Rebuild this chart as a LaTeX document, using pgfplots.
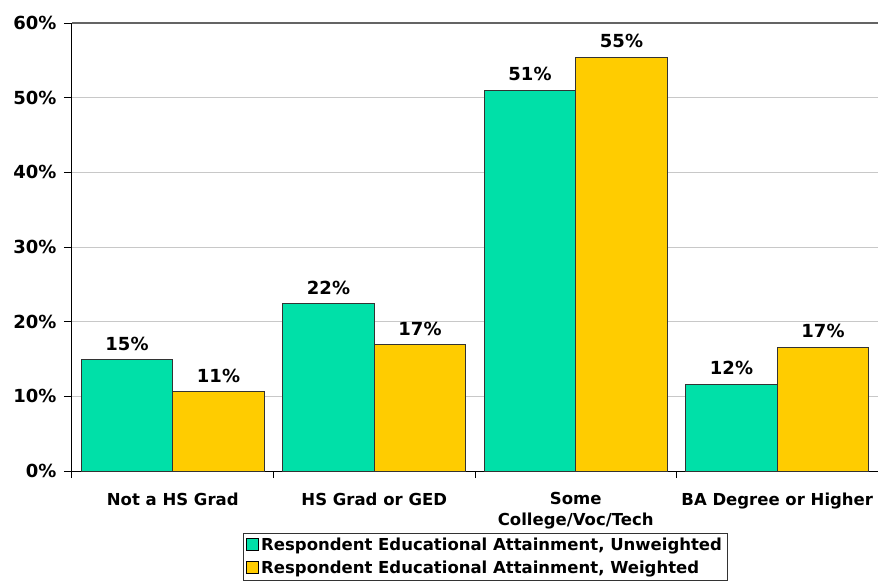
\documentclass[border=0pt]{standalone}
\usepackage{fontspec}
\setmainfont{DejaVu Sans}
\usepackage{pgfplots}
\pgfplotsset{compat=1.18}
\pgfkeys{/pgf/number format/assume math mode=true}
\definecolor{cgreen}{RGB}{0,224,168}
\definecolor{cyellow}{RGB}{255,204,0}
\definecolor{gridgray}{RGB}{200,200,200}
\definecolor{topgray}{RGB}{100,100,100}
\begin{document}
\begin{tikzpicture}[x=1pt,y=1pt]
\useasboundingbox (0,0) rectangle (878,582);
\begin{axis}[
  at={(72pt,111pt)}, anchor=south west,
  scale only axis, width=806pt, height=448pt,
  xmin=-0.5, xmax=3.5, ymin=0, ymax=60,
  axis x line=bottom, axis y line=left,
  axis line style={-, black, line width=1pt},
  tick align=outside,
  ytick={0,10,20,30,40,50,60},
  yticklabels={0\%,10\%,20\%,30\%,40\%,50\%,60\%},
  y tick label style={font=\bfseries\fontsize{18}{18}\selectfont, xshift=-4pt},
  ytick style={black, line width=1pt},
  major tick length=8pt,
  ymajorgrids, major grid style={gridgray, line width=0.8pt},
  xtick={0,1,2,3},
  xticklabels={Not a HS Grad, HS Grad or GED, Some\\College/Voc/Tech, BA Degree or Higher},
  x tick label style={align=center, font=\bfseries\fontsize{16.5}{21}\selectfont, anchor=north, yshift=-10pt},
  xtick style={draw=none},
  extra x ticks={-0.5,0.5,1.5,2.5,3.5},
  extra x tick labels={},
  extra x tick style={xtick style={black, line width=1pt, draw=black}, major tick length=7pt},
  ybar, bar width=91.5pt,
  nodes near coords={\pgfmathprintnumber[fixed,precision=0]{\pgfplotspointmeta}\%},
  nodes near coords style={font=\bfseries\fontsize{18}{18}\selectfont, anchor=south, inner sep=2pt, yshift=7pt},
  clip=false,
  area legend,
  legend image code/.code={\draw[#1, draw=black, line width=0.8pt] (0pt,-5pt) rectangle (12pt,7pt);},
  legend style={at={(0.2122,-0.1384)}, anchor=north west, draw=black!80, line width=0.8pt,
    font=\bfseries\fontsize{16.5}{18}\selectfont, inner sep=3pt, row sep=5pt,
    /tikz/every even column/.append style={column sep=2pt}},
  legend cell align=left,
]
\addplot[fill=cgreen, draw=black!80, line width=0.8pt, bar shift=-45.75pt]
  coordinates {(0,14.9) (1,22.4) (2,51.0) (3,11.6)};
\addlegendentry{Respondent Educational Attainment, Unweighted}
\addplot[fill=cyellow, draw=black!80, line width=0.8pt, bar shift=45.75pt]
  coordinates {(0,10.6) (1,16.9) (2,55.4) (3,16.6)};
\addlegendentry{Respondent Educational Attainment, Weighted}
\draw[topgray, line width=1.6pt] (rel axis cs:0,1) -- (rel axis cs:1,1);
\end{axis}
\end{tikzpicture}
\end{document}
